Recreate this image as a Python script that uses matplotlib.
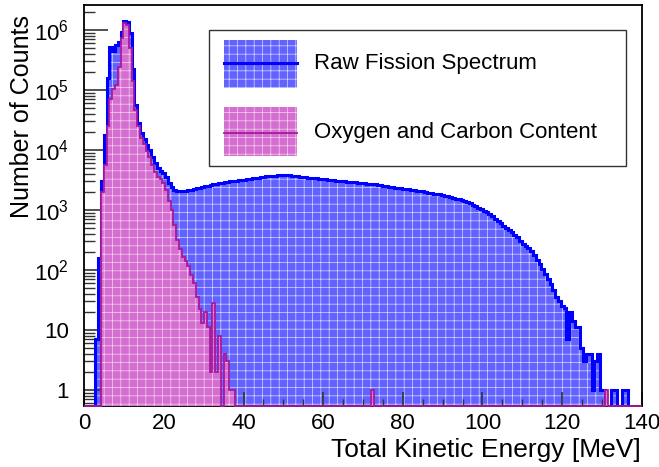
import numpy as np
import matplotlib.pyplot as plt
from matplotlib.patches import Rectangle
from matplotlib.lines import Line2D
from matplotlib.ticker import FixedLocator, LogLocator, MultipleLocator, NullFormatter

plt.rcParams['font.family'] = ['Liberation Sans', 'DejaVu Sans']
plt.rcParams['mathtext.fontset'] = 'custom'
plt.rcParams['mathtext.rm'] = 'Liberation Sans'
plt.rcParams['mathtext.it'] = 'Liberation Sans:italic'
plt.rcParams['hatch.linewidth'] = 0.5

# 200 bins of 0.7 MeV from 0 to 140 MeV
edges = np.linspace(0, 140, 201)

raw_fission = [
    0, 0, 0, 0, 7, 160, 3000, 18000, 160000, 525000,
    440000, 560000, 630000, 930000, 1400000, 1380000, 890000, 220000, 56000, 28000,
    19000, 15000, 12000, 10000, 7600, 6000, 5000, 4500, 4200, 3500,
    2800, 2400, 2150, 2080, 2070, 2090, 2080, 2180, 2170, 2240,
    2320, 2370, 2430, 2480, 2540, 2600, 2660, 2720, 2790, 2850,
    2880, 2950, 2990, 3020, 3090, 3130, 3160, 3200, 3240, 3310,
    3350, 3390, 3470, 3510, 3550, 3630, 3670, 3720, 3720, 3760,
    3760, 3800, 3800, 3760, 3720, 3670, 3630, 3590, 3550, 3510,
    3470, 3430, 3390, 3350, 3310, 3270, 3240, 3200, 3160, 3130,
    3090, 3050, 3020, 2990, 2950, 2920, 2880, 2880, 2850, 2820,
    2790, 2750, 2720, 2690, 2660, 2600, 2570, 2540, 2510, 2450,
    2430, 2370, 2340, 2290, 2260, 2240, 2210, 2160, 2140, 2110,
    2090, 2040, 2000, 1950, 1910, 1880, 1860, 1820, 1780, 1740,
    1700, 1640, 1600, 1550, 1510, 1460, 1410, 1350, 1290, 1200,
    1150, 1100, 1020, 980, 930, 850, 780, 710, 660, 600,
    550, 510, 470, 430, 390, 355, 310, 275, 250, 230,
    205, 175, 148, 126, 105, 85, 72, 58, 46, 36,
    30, 25, 23, 7, 20, 14, 11, 11, 5, 3,
    4, 4, 1, 3, 4, 1, 1, 0, 0, 1,
    1, 0, 0, 1, 1, 0, 0, 0, 0, 0,
]

oxygen_carbon = [0] * 200
oxygen_carbon[:54] = [
    0, 0, 0, 0, 0, 0, 2000, 5600, 25000, 71000,
    105000, 120000, 245000, 740000, 1300000, 1200000, 500000, 140000, 47000, 25000,
    16000, 12500, 9500, 7500, 5600, 4300, 3500, 3300, 2800, 2150,
    1400, 1000, 560, 320, 220, 165, 140, 117, 83, 60,
    35, 22, 13, 20, 11, 2, 28, 2, 8, 0,
    4, 3, 1, 1,
]
oxygen_carbon[103] = 1
oxygen_carbon[187] = 1

x_ticks = [0, 20, 40, 60, 80, 100, 120, 140]
y_ticks = [1, 10, 1e2, 1e3, 1e4, 1e5, 1e6]
y_labels = ['1', '10', r'$10^{2}$', r'$10^{3}$', r'$10^{4}$', r'$10^{5}$', r'$10^{6}$']
labels = ['Raw Fission Spectrum', 'Oxygen and Carbon Content']

YMIN, YMAX = 0.54, 2.66e6
blue_fill, blue_line = '#6262ff', '#0000ff'
pink_fill, pink_line = '#d46ed0', '#a8189c'

fig = plt.figure(figsize=(6.59, 4.67), dpi=100)
ax = fig.add_axes([0.1279, 0.1306, 0.8458, 0.8597])
ax.set_yscale('log')

raw = np.clip(np.array(raw_fission, float), YMIN, None)
oc = np.clip(np.array(oxygen_carbon, float), YMIN, None)

ax.stairs(raw, edges, baseline=YMIN, fill=True, facecolor=blue_fill,
          edgecolor='#d8d8ff', hatch='++', linewidth=0, zorder=1)
ax.stairs(raw, edges, baseline=YMIN, color=blue_line, lw=2.2, zorder=2)
ax.stairs(oc, edges, baseline=YMIN, fill=True, facecolor=pink_fill,
          edgecolor='#f4d4f0', hatch='++', linewidth=0, zorder=3)
ax.stairs(oc, edges, baseline=YMIN, color=pink_line, lw=1.3, zorder=4, clip_on=False)

ax.set_xlim(0, 140)
ax.set_ylim(YMIN, YMAX)
ax.xaxis.set_major_locator(FixedLocator(x_ticks))
ax.xaxis.set_minor_locator(MultipleLocator(5))
ax.yaxis.set_major_locator(FixedLocator(y_ticks))
ax.set_yticklabels(y_labels)
ax.yaxis.set_minor_locator(LogLocator(base=10, subs=np.arange(2, 10)))
ax.yaxis.set_minor_formatter(NullFormatter())
ax.tick_params(axis='both', which='both', direction='in', top=False, right=False,
               labelsize=16, color='#333333')
ax.tick_params(axis='x', which='major', length=10, width=1.2, pad=5)
ax.tick_params(axis='x', which='minor', length=5, width=1.0)
ax.tick_params(axis='y', which='major', length=17, width=1.2, pad=11)
ax.tick_params(axis='y', which='minor', length=8, width=1.0)
for s in ax.spines.values():
    s.set_linewidth(1.3)

fig.text(0.9727, 0.0364, 'Total Kinetic Energy [MeV]', ha='right', va='center', fontsize=19)
fig.text(0.0334, 0.968, 'Number of Counts', rotation=90, ha='center', va='top', fontsize=18)

# legend box drawn in axes fractions
ax.add_patch(Rectangle((0.2243, 0.5985), 0.7475, 0.338, transform=ax.transAxes,
                       facecolor='white', edgecolor='#333333', lw=1.0, zorder=10))
swatches = [(0.7913, 0.8535, blue_fill, '#d8d8ff', blue_line, 2.2),
            (0.6234, 0.6807, pink_fill, '#f4d4f0', pink_line, 1.3)]
for (y0, ym, fc, hc, lc, lw), lab in zip(swatches, labels):
    ax.add_patch(Rectangle((0.2506, y0), 0.1315, 0.1203, transform=ax.transAxes,
                           facecolor=fc, edgecolor=hc, hatch='++', linewidth=0, zorder=11))
    ax.add_line(Line2D([0.2506, 0.3821], [ym, ym], transform=ax.transAxes,
                       color=lc, lw=lw, zorder=12))
    ax.text(0.4126, ym, lab, transform=ax.transAxes, ha='left', va='center',
            fontsize=16, zorder=12)

fig.savefig('out.png', dpi=100)
